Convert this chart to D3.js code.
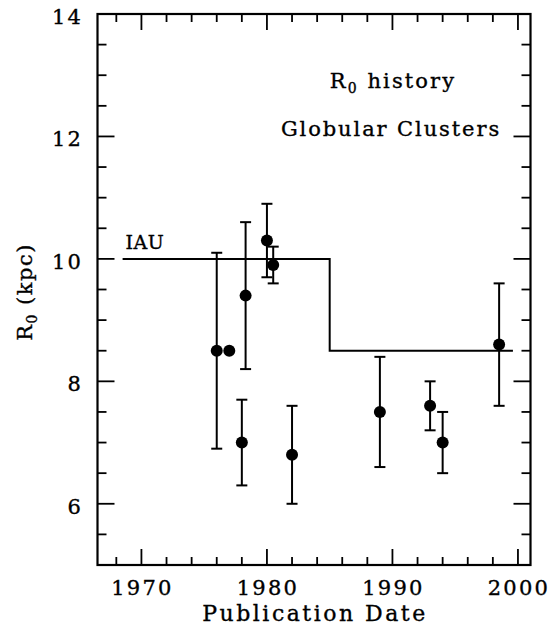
<!DOCTYPE html>
<html><head><meta charset="utf-8">
<script src="https://cdn.jsdelivr.net/npm/d3@7"></script>
<style>
body{margin:0;background:#fff;}
text{font-family:"DejaVu Serif",serif;fill:#000;stroke:#000;stroke-width:0.35;}
</style></head>
<body><svg id="c" width="550" height="632"></svg>
<script>
// ---- data ----
const years  = [1976, 1977, 1978.3, 1978, 1980.0, 1980.5, 1982, 1989, 1993, 1994, 1998.5];
const values = [8.5, 8.5, 9.4, 7.0, 10.3, 9.9, 6.8, 7.5, 7.6, 7.0, 8.6];
const errHigh = [10.1, null, 10.6, 7.7, 10.9, 10.2, 7.6, 8.4, 8.0, 7.5, 9.6];
const errLow  = [6.9, null, 8.2, 6.3, 9.7, 9.6, 6.0, 6.6, 7.2, 6.5, 7.6];
const iauYears  = [1968.5, 1985, 1985, 1999.6];
const iauValues = [10, 10, 8.5, 8.5];
const xTicks = [1970, 1980, 1990, 2000];
const yTicks = [6, 8, 10, 12, 14];
const xLabel = "Publication Date";
const titleLines = ["history", "Globular Clusters"];

const svg = d3.select("#c");
const L = 97.5, R = 530.5, T = 14, B = 565;
const x = d3.scaleLinear().domain([1966.5, 2001]).range([L, R]);
const y = d3.scaleLinear().domain([5, 14]).range([B, T]);

const xMinor = d3.range(1968, 2001, 2).filter(v => !xTicks.includes(v));
const yMinor = d3.range(5.5, 14, 0.5).filter(v => !yTicks.includes(v));

const g = svg.append("g");
function ticksX(vals, len, yPos, dir){
  g.selectAll(null).data(vals).enter().append("line")
    .attr("x1", d => x(d)).attr("x2", d => x(d))
    .attr("y1", yPos).attr("y2", yPos + dir*len)
    .attr("stroke", "#000").attr("stroke-width", 1.8);
}
function ticksY(vals, len, xPos, dir){
  g.selectAll(null).data(vals).enter().append("line")
    .attr("y1", d => y(d)).attr("y2", d => y(d))
    .attr("x1", xPos).attr("x2", xPos + dir*len)
    .attr("stroke", "#000").attr("stroke-width", 1.8);
}
ticksX(xTicks, 16, B, -1); ticksX(xMinor, 8, B, -1);
ticksX(xTicks, 16, T, 1);  ticksX(xMinor, 8, T, 1);
ticksY(yTicks, 17, L, 1);  ticksY(yMinor, 9, L, 1);
ticksY(yTicks, 17, R, -1); ticksY(yMinor, 9, R, -1);

g.append("rect").attr("x", L).attr("y", T).attr("width", R - L).attr("height", B - T)
  .attr("fill", "none").attr("stroke", "#000").attr("stroke-width", 2.2);

g.selectAll(null).data(xTicks).enter().append("text")
  .attr("x", d => x(d) + 1).attr("y", 595).attr("text-anchor", "middle")
  .attr("font-size", 21).attr("letter-spacing", 2.2).text(d => d);
g.selectAll(null).data(yTicks).enter().append("text")
  .attr("x", 83).attr("y", d => y(d) + 10).attr("text-anchor", "end")
  .attr("font-size", 21).attr("letter-spacing", 2.2).text(d => d);

g.append("text").attr("x", (L + R) / 2 + 1).attr("y", 621).attr("text-anchor", "middle")
  .attr("font-size", 22).attr("letter-spacing", 2.5).text(xLabel);
const yl = g.append("text").attr("transform", "translate(32,292) rotate(-90)")
  .attr("text-anchor", "middle").attr("font-size", 21).attr("letter-spacing", 1.5);
yl.append("tspan").text("R");
yl.append("tspan").attr("font-size", 14).attr("dy", 5).text("0");
yl.append("tspan").attr("dy", -5).text(" (kpc)");

const t1 = g.append("text").attr("x", 393).attr("y", 88).attr("text-anchor", "middle")
  .attr("font-size", 21).attr("letter-spacing", 2.1);
t1.append("tspan").text("R");
t1.append("tspan").attr("font-size", 14).attr("dy", 5).text("0");
t1.append("tspan").attr("dy", -5).text(" " + titleLines[0]);
g.append("text").attr("x", 391).attr("y", 136).attr("text-anchor", "middle")
  .attr("font-size", 21).attr("letter-spacing", 1.9).text(titleLines[1]);

const iau = iauYears.map((d, i) => [d, iauValues[i]]);
g.append("path").attr("d", d3.line().x(d => x(d[0])).y(d => y(d[1]))(iau))
  .attr("fill", "none").attr("stroke", "#000").attr("stroke-width", 2);
g.append("text").attr("x", x(iauYears[0]) + 3).attr("y", y(iauValues[0]) - 10)
  .attr("font-size", 19).attr("letter-spacing", 0.5).text("IAU");

const pts = years.map((d, i) => ({x: d, v: values[i], hi: errHigh[i], lo: errLow[i]}));
const eb = g.selectAll(null).data(pts.filter(p => p.hi != null)).enter().append("g");
eb.append("line").attr("x1", d => x(d.x)).attr("x2", d => x(d.x))
  .attr("y1", d => y(d.hi)).attr("y2", d => y(d.lo)).attr("stroke", "#000").attr("stroke-width", 2);
eb.append("line").attr("x1", d => x(d.x) - 5.5).attr("x2", d => x(d.x) + 5.5)
  .attr("y1", d => y(d.hi)).attr("y2", d => y(d.hi)).attr("stroke", "#000").attr("stroke-width", 2);
eb.append("line").attr("x1", d => x(d.x) - 5.5).attr("x2", d => x(d.x) + 5.5)
  .attr("y1", d => y(d.lo)).attr("y2", d => y(d.lo)).attr("stroke", "#000").attr("stroke-width", 2);
g.selectAll(null).data(pts).enter().append("circle")
  .attr("cx", d => x(d.x)).attr("cy", d => y(d.v)).attr("r", 6).attr("fill", "#000");
</script></body></html>
